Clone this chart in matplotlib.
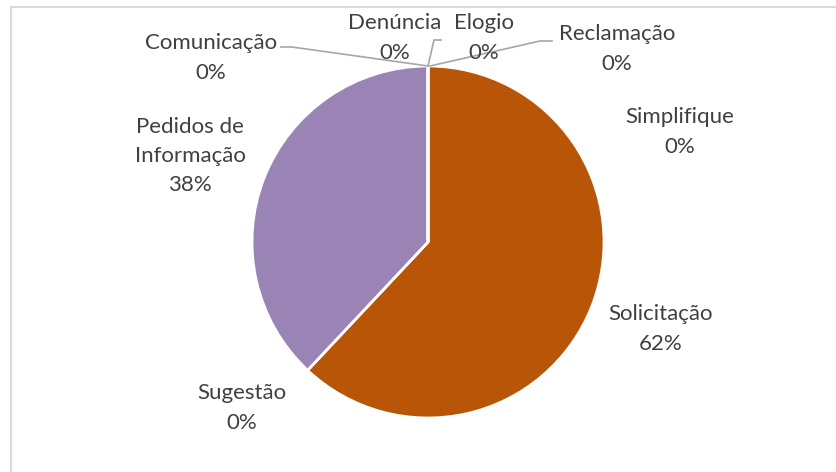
import matplotlib.pyplot as plt
from matplotlib.patches import Rectangle

# categorias na ordem do gráfico (sentido horário a partir do topo)
categorias = ['Reclamação', 'Simplifique', 'Solicitação', 'Sugestão',
              'Pedidos de\nInformação', 'Comunicação', 'Denúncia', 'Elogio']
valores = [0, 0, 62, 0, 38, 0, 0, 0]
cores = ['#4472C4', '#ED7D31', '#B85506', '#FFC000',
         '#9A84B5', '#70AD47', '#264478', '#9E480E']

# posição dos rótulos (pixels, origem em baixo à esquerda)
pos_rotulos = {
    'Reclamação': (617, 423),
    'Simplifique': (680, 340),
    'Solicitação': (661, 143),
    'Sugestão': (242, 64),
    'Pedidos de\nInformação': (190, 316),
    'Comunicação': (211, 414),
    'Denúncia': (395, 434),
    'Elogio': (484, 434),
}
# linhas de chamada (pixels)
linhas = {
    'Comunicação': [(281, 425), (292, 425), (428, 406)],
    'Denúncia': [(441, 432), (434, 432), (428, 406)],
    'Reclamação': [(552, 431), (540, 431), (430, 406)],
}

W, H = 836, 472
fig = plt.figure(figsize=(W / 100, H / 100), dpi=100)
ax = fig.add_axes([0, 0, 1, 1])

# borda da área do gráfico
ax.add_patch(Rectangle((10.5, -10), W + 20, H - 6.5 + 10, fill=False,
                       edgecolor='#D9D9D9', linewidth=1.5))

centro = (428, 230)
raio = 176
ax.pie(valores, colors=cores, startangle=90, counterclock=False,
       center=centro, radius=raio, frame=True,
       wedgeprops=dict(edgecolor='white', linewidth=2))
ax.set_xlim(0, W)
ax.set_ylim(0, H)
ax.set_aspect('equal')
ax.axis('off')

total = sum(valores)
for cat, v in zip(categorias, valores):
    x, y = pos_rotulos[cat]
    txt = f'{cat}\n{round(100 * v / total)}%'
    ax.text(x, y, txt, ha='center', va='center', fontsize=16,
            family='Lato', color='#404040', linespacing=1.58, zorder=5)

for cat, pts in linhas.items():
    xs = [p[0] for p in pts]
    ys = [p[1] for p in pts]
    ax.plot(xs, ys, color='#A6A6A6', linewidth=1.2, zorder=4)

fig.savefig('out.png', dpi=100)
